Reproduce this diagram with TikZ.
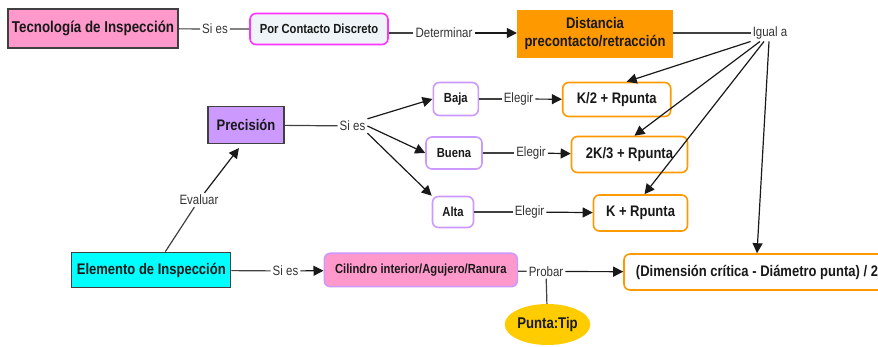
\documentclass[tikz,border=0pt]{standalone}
\usepackage{fontspec}
\setmainfont[FakeStretch=0.85]{Liberation Sans}
\usepackage{xcolor}
\usetikzlibrary{arrows.meta, shapes.geometric}

\definecolor{rosa}{HTML}{FF99CC}
\definecolor{lila}{HTML}{CC99FF}
\definecolor{naranja}{HTML}{FF9900}
\definecolor{cian}{HTML}{00FFFF}
\definecolor{amarillo}{HTML}{FFCC00}
\definecolor{fucsia}{HTML}{FF33FF}
\definecolor{niebla}{HTML}{EEF4F7}

\begin{document}
\begin{tikzpicture}[
    x=1pt, y=-1pt,
    concept/.style={
        rectangle,
        draw=black!75,
        line width=1.2pt,
        align=center,
        inner sep=0pt,
        text=black!90,
        font=\fontsize{15.3}{18}\selectfont\bfseries
    },
    soft/.style={concept, rounded corners=6pt, line width=1.6pt},
    small/.style={font=\fontsize{13.2}{15}\selectfont\bfseries},
    link/.style={inner sep=2pt, text=black!80, font=\fontsize{13.5}{15}\selectfont},
    line/.style={draw=black!75, line width=1.2pt},
    arrow/.style={line, draw=black!90, -{Triangle[length=10pt, width=10pt]}}
]
\useasboundingbox (0,0) rectangle (878,347);

\node[concept, fill=rosa, minimum width=170, minimum height=39,
      font=\fontsize{15.7}{19}\selectfont\bfseries] (tecnologia) at (93,28.5) {Tecnología de Inspección};
\node[soft, small, draw=fucsia, fill=niebla, minimum width=138, minimum height=31] (contacto) at (319,29) {Por Contacto Discreto};
\node[concept, draw=naranja, fill=naranja, minimum width=155, minimum height=46] (distancia) at (595,34) {Distancia\\precontacto/retracción};

\node[concept, fill=lila, minimum width=76, minimum height=37] (precision) at (246,125) {Precisión};
\node[soft, small, draw=lila, fill=white, minimum width=45, minimum height=33] (baja) at (455.8,99) {Baja};
\node[soft, small, draw=lila, fill=white, minimum width=56, minimum height=32] (buena) at (454,153) {Buena};
\node[soft, small, draw=lila, fill=white, minimum width=41, minimum height=31] (alta) at (453,212) {Alta};

\node[soft, draw=naranja, fill=white, minimum width=108, minimum height=34] (k2) at (616.7,99.5) {K/2 + Rpunta};
\node[soft, draw=naranja, fill=white, minimum width=116, minimum height=36] (k23) at (629.5,154.5) {2K/3 + Rpunta};
\node[soft, draw=naranja, fill=white, minimum width=94, minimum height=36] (k1) at (640.5,213) {K + Rpunta};

\node[concept, fill=cian, minimum width=159, minimum height=35.4] (elemento) at (151.3,270) {Elemento de Inspección};
\node[soft, small, draw=lila, fill=rosa, minimum width=193, minimum height=33.4] (cilindro) at (420.8,270) {Cilindro interior/Agujero/Ranura};
\node[soft, draw=naranja, fill=white, minimum width=266, minimum height=36] (dimension) at (757,272) {(Dimensión crítica - Diámetro punta) / 2};
\node[ellipse, fill=amarillo, inner sep=0pt, minimum width=85, minimum height=41, text=black!90,
      font=\fontsize{15.5}{18}\selectfont\bfseries] (punta) at (547.5,324.5) {Punta:Tip};

\node[link] (siEs1) at (215,29) {Si es};
\node[link] (determinar) at (444,33) {Determinar};
\node[link] (igual) at (770,33) {Igual a};
\node[link] (siEs2) at (352.5,126) {Si es};
\node[link] (elegir1) at (518.5,99) {Elegir};
\node[link] (elegir2) at (531,153) {Elegir};
\node[link] (elegir3) at (529.5,212) {Elegir};
\node[link] (evaluar) at (199,200) {Evaluar};
\node[link] (siEs3) at (285.5,271) {Si es};
\node[link] (probar) at (546,271.5) {Probar};

\draw[line] (tecnologia) -- (siEs1) -- (contacto);
\draw[line] (contacto.east |- determinar) -- (determinar);
\draw[arrow] (determinar) -- (distancia.west |- determinar);
\draw[line] (distancia.east |- igual) -- (igual);
\draw[arrow] (igual.south west) -- ([xshift=10]k2.north);
\draw[arrow] ([xshift=-10]igual.south) -- ([xshift=5]k23.north);
\draw[arrow] ([xshift=-6]igual.south) -- ([xshift=4]k1.north);
\draw[arrow] ([xshift=-1]igual.south) -- (dimension.north);

\draw[line] (precision) -- (siEs2);
\draw[arrow] (siEs2.north east) -- (baja.west);
\draw[arrow] (siEs2.east) -- (buena.west);
\draw[arrow] (siEs2.south east) -- (alta.north west);
\draw[line] (baja) -- (elegir1);
\draw[arrow] (elegir1) -- (k2);
\draw[line] (buena) -- (elegir2);
\draw[arrow] (elegir2) -- (k23);
\draw[line] (alta) -- (elegir3);
\draw[arrow] (elegir3) -- (k1);

\draw[line] ([xshift=14]elemento.north) -- (evaluar);
\draw[arrow, shorten >=5pt] (evaluar) -- ([xshift=-4]precision.south);
\draw[line] (elemento) -- (siEs3);
\draw[arrow] (siEs3) -- (cilindro);
\draw[line] (cilindro) -- (probar);
\draw[arrow] (probar) -- (dimension);
\draw[line] (probar) -- (punta);

\end{tikzpicture}
\end{document}
